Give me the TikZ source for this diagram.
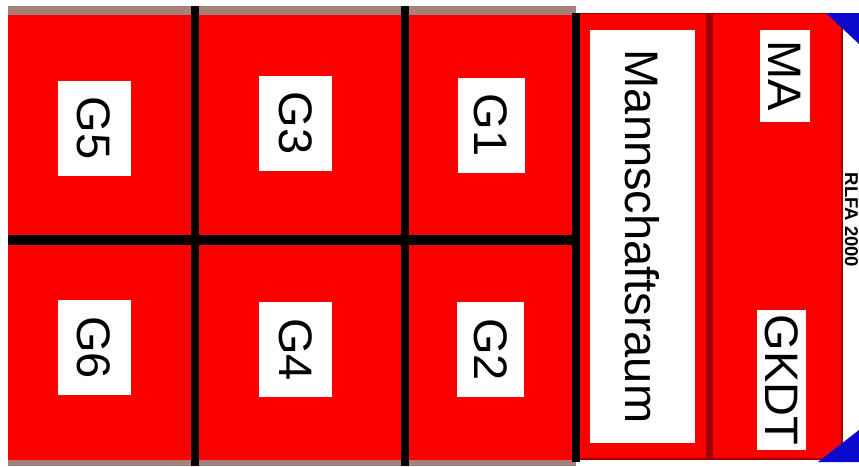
\documentclass[tikz,border=0pt]{standalone}
\usepackage{fontspec}
\setmainfont{Liberation Sans}
\usetikzlibrary{positioning}
\definecolor{truckred}{RGB}{252,0,0}
\definecolor{darkline}{RGB}{160,0,0}
\definecolor{roofedge}{RGB}{168,128,122}
\definecolor{cornerblue}{RGB}{10,10,205}

\begin{document}
\begin{tikzpicture}[
    x=1pt, y=-1pt,
    % --- STYLES ---
    tag/.style={fill=white, rotate=-90, inner sep=0pt, font=\fontsize{47}{50}\selectfont},
    seat/.style={tag, minimum width=95pt, minimum height=73pt},
    wall/.style={black, line width=8pt},
    divider/.style={darkline, line width=7pt},
    typetext/.style={rotate=-90, inner sep=0pt, font=\bfseries\fontsize{18.5}{20}\selectfont}
]
\useasboundingbox (0,0) rectangle (859,466);
\fill[white] (0,0) rectangle (859,466);

% --- 1. BODY ---
\fill[roofedge] (8,6) rectangle (576,466);
\fill[truckred] (8,15) rectangle (576,460);
\fill[truckred] (576,13) rectangle (842,459);
\draw[darkline, line width=1.5pt] (576,13.5) -- (842,13.5) -- (842,459) -- (576,459);
\draw[divider] (709,13) -- (709,459);

% --- 2. COMPARTMENT WALLS ---
\draw[wall] (195,6) -- (195,466);
\draw[wall] (405,6) -- (405,466);
\draw[wall, line width=10pt] (8,240) -- (576,240);
\draw[wall] (576,13) -- (576,462);

% --- 3. CORNERS ---
\fill[cornerblue] (826,13) -- (859,13) -- (859,44) -- cycle;
\fill[cornerblue] (818,462) -- (859,462) -- (859,430) -- cycle;

% --- 4. LABELS ---
\node[seat] (g5) at (94,128) {G5};
\node[seat] (g3) at (295.5,123) {G3};
\node[seat, minimum height=67pt] (g1) at (491,125) {G1};
\node[seat] (g6) at (94,347.5) {G6};
\node[seat] (g4) at (295.5,349.5) {G4};
\node[seat, minimum height=67pt] (g2) at (490.5,349.5) {G2};
\node[tag, minimum width=413pt, minimum height=105pt] (raum) at (642.5,236.5) {Mannschaftsraum};
\node[tag, minimum width=92pt, minimum height=50pt] (ma) at (785,76) {MA};
\node[tag, minimum width=140pt, minimum height=49pt] (gkdt) at (781.5,380) {GKDT};
\node[typetext] (typ) at (851.5,220) {RLFA 2000};

\end{tikzpicture}
\end{document}
